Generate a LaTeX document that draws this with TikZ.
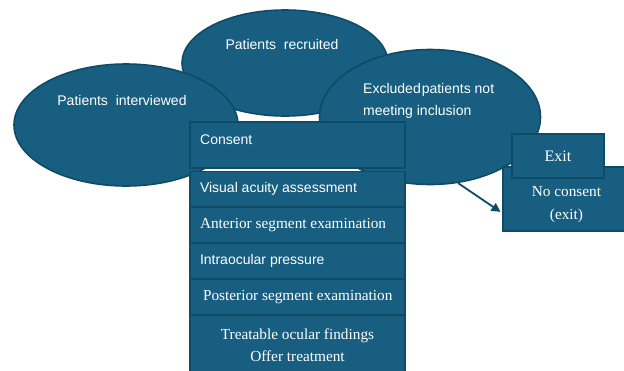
\documentclass[tikz,border=0pt]{standalone}
\usepackage{fontspec}
\setmainfont{Liberation Serif}
\setsansfont{Liberation Sans}
\usetikzlibrary{arrows.meta,calc,shapes.geometric}
\definecolor{boxfill}{HTML}{175E80}
\definecolor{boxline}{HTML}{0F4A66}
\tikzset{
  blob/.style={ellipse, draw=boxline, line width=1.6pt, fill=boxfill, inner sep=0pt},
  stepbox/.style={rectangle, draw=boxline, line width=1.6pt, fill=boxfill, inner sep=0pt,
    text=white, font=\fontsize{15.3}{18}\selectfont},
  sansstep/.style={font=\sffamily\fontsize{14}{17}\selectfont},
  sanslabel/.style={text=white, font=\sffamily\fontsize{14}{22}\selectfont, inner sep=0pt},
  flowarrow/.style={draw=boxline, line width=1.8pt, -{Triangle[length=9pt,width=9pt]}}
}
\begin{document}
\begin{tikzpicture}[x=1pt,y=-1pt]
\useasboundingbox (0,0) rectangle (624,370);
\clip (0,0) rectangle (624,370);

% screening ellipses
\node[blob, minimum width=206pt, minimum height=106pt] (recr) at (285,63) {};
\node[sanslabel] (recrtxt) at (282,44) {Patients\ \ recruited};
\node[blob, minimum width=224pt, minimum height=122pt] (intv) at (126,125) {};
\node[sanslabel] (intvtxt) at (122,100) {Patients\ \ interviewed};
\node[blob, minimum width=221pt, minimum height=135pt] (excl) at (430,117) {};
\node[sanslabel, align=left, anchor=north west] (excltxt) at (363,83)
  {Excluded\hspace{1pt}patients not\\meeting inclusion};

% examination steps
\node[stepbox, minimum width=215pt, minimum height=46pt] (cons) at (297.5,145) {};
\node[anchor=west, text=white, sansstep, inner sep=0pt]
  (constxt) at (200,140) {Consent};
\node[stepbox, sansstep, minimum width=215pt, minimum height=35pt]
  (va) at (297.5,189) {\makebox[195pt][l]{Visual acuity assessment}};
\node[stepbox, minimum width=215pt, minimum height=35pt]
  (ant) at (297.5,225) {\makebox[195pt][l]{Anterior segment examination}};
\node[stepbox, sansstep, minimum width=215pt, minimum height=35pt]
  (iop) at (297.5,261) {\makebox[195pt][l]{Intraocular pressure}};
\node[stepbox, minimum width=215pt, minimum height=35pt]
  (post) at (297.5,297) {\makebox[195pt][l]{\hspace{3pt}Posterior segment examination}};
\node[stepbox, minimum width=215pt, minimum height=60pt, align=center, font=\fontsize{15.3}{22}\selectfont]
  (treat) at (297.5,345) {Treatable ocular findings\\Offer treatment};

% exit branch
\node[stepbox, minimum width=127pt, minimum height=64pt, align=center, font=\fontsize{15.3}{23}\selectfont]
  (nocons) at (566.5,199) {\\[-2pt]No consent\\(exit)};
\node[stepbox, minimum width=92pt, minimum height=44pt, font=\fontsize{16}{18}\selectfont]
  (exit) at (558,156) {Exit};

\draw[flowarrow, shorten >=2pt] (excl.-67.6) -- ([yshift=-14pt]nocons.west);
\end{tikzpicture}
\end{document}
